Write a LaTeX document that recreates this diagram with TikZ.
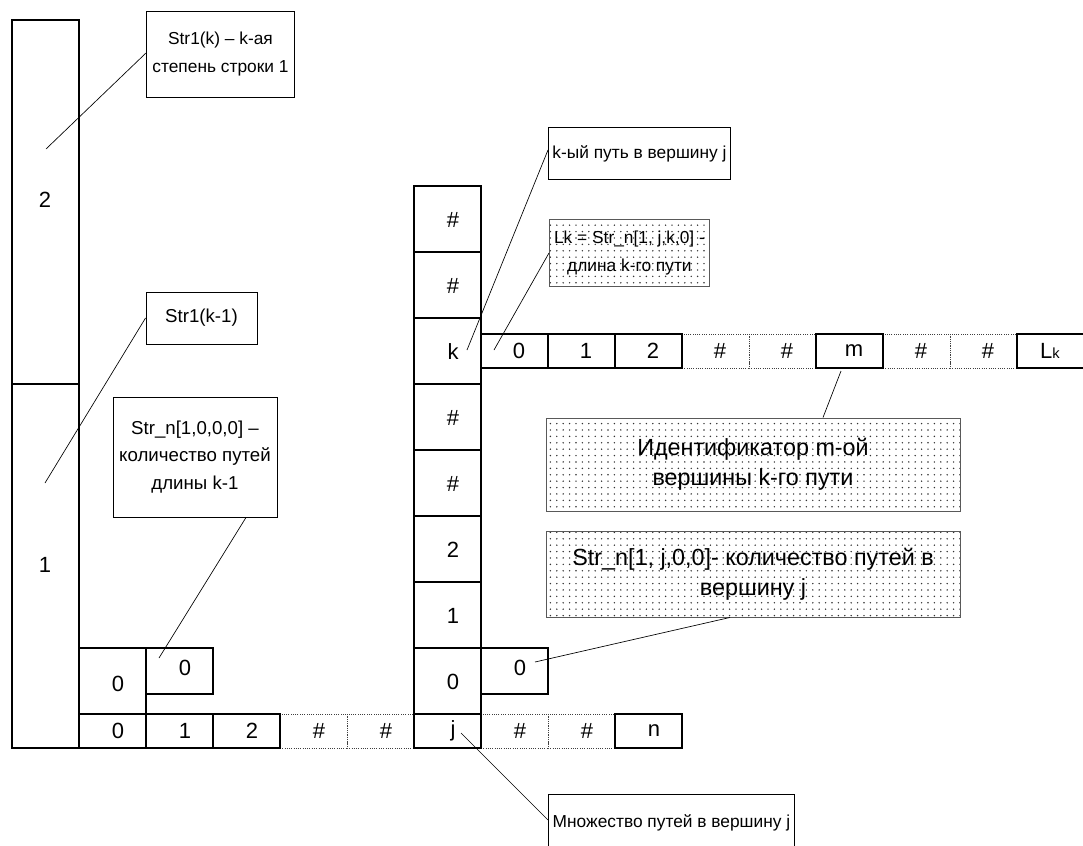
\documentclass[tikz,border=0pt]{standalone}
\usepackage{fontspec}
\setmainfont{Liberation Sans}
\usetikzlibrary{patterns.meta}

\begin{document}
\begin{tikzpicture}[x=0.75pt,y=-0.75pt,
  wall/.style={line width=1.1pt},
  dotwall/.style={line width=0.7pt,black!75,densely dotted},
  digit/.style={font=\fontsize{16.5}{17}\selectfont,inner sep=0pt},
  note/.style={draw,line width=0.7pt,fill=white,align=center,inner sep=0pt,
    font=\fontsize{13}{21}\selectfont},
  dotnote/.style={note,draw=black!65,
    pattern={Dots[distance=4.8pt,radius=0.6pt]},pattern color=black!80},
  lead/.style={line width=0.5pt}]

\useasboundingbox (0,0) rectangle (1083,846);
\clip (0,0) rectangle (1083,846);

% tall column Str1
\draw[wall] (12,20) rectangle (79,748);
\draw[wall] (12,384) -- (79,384);
\node[digit] (t2) at (45,200) {2};
\node[digit] (t1) at (45,565) {1};

% bottom row
\foreach \i in {3,4,6,7}
    \draw[dotwall] ({79+67*\i},714) rectangle ({146+67*\i},748);
\foreach \i in {0,1,2,5,8}
    \draw[wall] ({79+67*\i},714) rectangle ({146+67*\i},748);
\foreach \i/\t in {0/0,1/1,2/2,3/\#,4/\#,5/j,6/\#,7/\#,8/n}
    \node[digit] (b\i) at ({118+67*\i},731) {\t};

% zero boxes
\draw[wall] (79,648) rectangle (146,714);
\node[digit] (z1) at (118,684) {0};
\draw[wall] (146,648) rectangle (213,694);
\node[digit] (z2) at (185,668) {0};
\draw[wall] (481,648) rectangle (548,694);
\node[digit] (z3) at (520,668) {0};

% column j
\foreach \i/\t in {0/\#,1/\#,2/k,3/\#,4/\#,5/2,6/1,7/0}{
    \draw[wall] (414,{186+66*\i}) rectangle (481,{252+66*\i});
    \node[digit] (c\i) at (453,{220+66*\i}) {\t};
}

% row k
\foreach \i in {3,4,6,7}
    \draw[dotwall] ({481+67*\i},334) rectangle ({548+67*\i},368);
\foreach \i in {0,1,2,5,8}
    \draw[wall] ({481+67*\i},334) rectangle ({548+67*\i},368);
\foreach \i/\t in {0/0,1/1,2/2,3/\#,4/\#,5/m,6/\#,7/\#}
    \node[digit] (r\i) at ({519+67*\i},351) {\t};
\node[digit] (r8) at (1050,351) {L{\fontsize{11}{11}\selectfont k}};

% notes
\node[note,anchor=north west,minimum width=111pt,minimum height=64.5pt] (n1) at (146,11)
    {Str1(k) -- k-ая\\степень строки 1};
\node[note,font=\fontsize{14}{20}\selectfont,minimum width=83.25pt,minimum height=39pt] (n2) at (201.5,318)
    {Str1(k-1)};
\node[note,font=\fontsize{14}{20.5}\selectfont,minimum width=123pt,minimum height=90pt] (n3) at (195,457)
    {Str\_n[1,0,0,0] --\\количество путей\\длины k-1};
\node[note,anchor=north west,minimum width=136.5pt,minimum height=39pt] (n4) at (548,127)
    {k-ый путь в вершину j};
\node[dotnote,anchor=north west,minimum width=120pt,minimum height=50.25pt] (n5) at (549,219)
    {Lk = Str\_n[1, j,k,0] -\\длина k-го пути};
\node[dotnote,font=\fontsize{17.5}{22.5}\selectfont,minimum width=310.5pt,minimum height=69.75pt] (n6) at (753,464.5)
    {Идентификатор m-ой\\вершины k-го пути};
\node[dotnote,font=\fontsize{17.5}{22.5}\selectfont,minimum width=310.5pt,minimum height=64.5pt] (n7) at (753,574)
    {Str\_n[1, j,0,0]- количество путей в\\вершину j};
\node[note,anchor=north west,minimum width=184.5pt,minimum height=42pt] (n8) at (548,794)
    {Множество путей в вершину j};

% leaders
\coordinate (p1) at (46,149);
\coordinate (p2) at (45,483);
\coordinate (p3) at (159,658);
\coordinate (p4) at (467,350);
\coordinate (p5) at (494,350);
\coordinate (p6) at (841,371);
\coordinate (p7) at (535,662);
\coordinate (p8) at (461,733);
\draw[lead] (n1.west |- 0,53) -- (p1);
\draw[lead] (n2.west) -- (p2);
\draw[lead] (n3.south -| 246,0) -- (p3);
\draw[lead] (n4.west |- 0,150) -- (p4);
\draw[lead] (n5.west) -- (p5);
\draw[lead] (n6.north -| 823,0) -- (p6);
\draw[lead] (n7.south -| 730,0) -- (p7);
\draw[lead] (n8.west |- 0,820) -- (p8);

\end{tikzpicture}
\end{document}
